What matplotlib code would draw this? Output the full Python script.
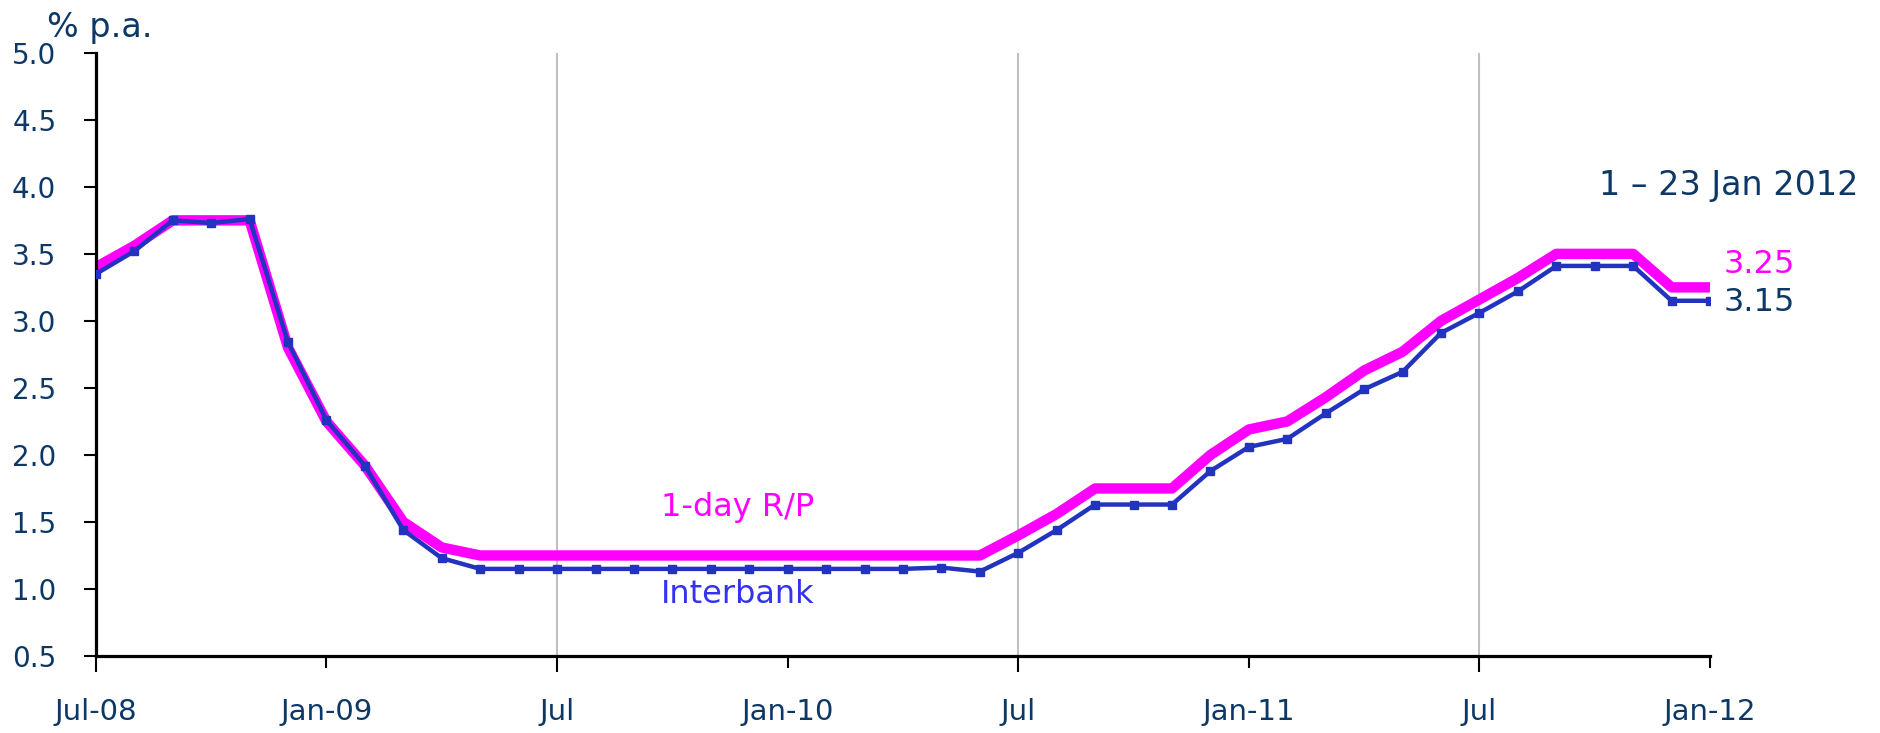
import matplotlib
matplotlib.use("Agg")
import matplotlib.pyplot as plt

# monthly index, Jul-08 = 0 ... Jan-12 = 42
months = list(range(43))
jul_pos = [0, 12, 24, 36]
jul_labels = ['Jul-08', 'Jul', 'Jul', 'Jul']
jan_pos = [6, 18, 30, 42]
jan_labels = ['Jan-09', 'Jan-10', 'Jan-11', 'Jan-12']

rp_1day = [3.40, 3.56, 3.75, 3.75, 3.75, 2.80, 2.25, 1.92, 1.50, 1.31,
           1.25, 1.25, 1.25, 1.25, 1.25, 1.25, 1.25, 1.25, 1.25, 1.25,
           1.25, 1.25, 1.25, 1.25, 1.40, 1.56, 1.75, 1.75, 1.75, 2.00,
           2.19, 2.25, 2.43, 2.63, 2.77, 3.00, 3.16, 3.32, 3.50, 3.50,
           3.50, 3.25, 3.25]
interbank = [3.35, 3.52, 3.75, 3.73, 3.76, 2.84, 2.26, 1.92, 1.44, 1.23,
             1.15, 1.15, 1.15, 1.15, 1.15, 1.15, 1.15, 1.15, 1.15, 1.15,
             1.15, 1.15, 1.16, 1.13, 1.27, 1.44, 1.63, 1.63, 1.63, 1.88,
             2.06, 2.12, 2.31, 2.49, 2.62, 2.91, 3.06, 3.22, 3.41, 3.41,
             3.41, 3.15, 3.15]

navy = '#0d3866'
magenta = '#ff00ff'
blue = '#2233c0'

fig = plt.figure(figsize=(18.8, 7.33), dpi=100)
ax = fig.add_axes([0.051, 0.105, 0.8586, 0.823])

for xv in [12, 24, 36]:
    ax.axvline(xv, color='#c0c0c0', lw=1.5, zorder=0)

ax.plot(months, rp_1day, color=magenta, lw=7.5, zorder=2)
ax.plot(months, interbank, color=blue, lw=3.2, marker='s', markersize=6, zorder=3)

ax.set_xlim(0, 42)
ax.set_ylim(0.5, 5.0)
yt = [0.5, 1.0, 1.5, 2.0, 2.5, 3.0, 3.5, 4.0, 4.5, 5.0]
ax.set_yticks(yt)
ax.set_yticklabels(['%.1f' % v for v in yt])
ax.set_xticks(jul_pos)
ax.set_xticklabels(jul_labels)
ax.set_xticks(jan_pos, minor=True)
ax.set_xticklabels(jan_labels, minor=True)

for s in ['top', 'right']:
    ax.spines[s].set_visible(False)
for s in ['left', 'bottom']:
    ax.spines[s].set_linewidth(2.3)
ax.tick_params(axis='x', which='major', length=11.5, width=1.5, pad=19,
               labelsize=21, labelcolor=navy)
ax.tick_params(axis='x', which='minor', length=8.5, width=1.5, pad=22,
               labelsize=21, labelcolor=navy)
ax.tick_params(axis='y', length=8.5, width=1.5, pad=20, labelsize=20, labelcolor=navy)

fig.text(0.025, 0.950, '% p.a.', fontsize=24, color=navy, ha='left', va='baseline')
ax.text(16.7, 1.61, '1-day R/P', color=magenta, fontsize=23, ha='center', va='center')
ax.text(16.7, 0.96, 'Interbank', color='#3333ee', fontsize=23, ha='center', va='center')
ax.text(45.85, 4.01, '1 \u2013 23 Jan 2012', color=navy, fontsize=24, ha='right',
        va='center', clip_on=False)
ax.text(42.34, 3.42, '3.25', color=magenta, fontsize=23, ha='left', va='center',
        clip_on=False)
ax.text(42.34, 3.14, '3.15', color=navy, fontsize=23, ha='left', va='center',
        clip_on=False)

fig.savefig('out.png', dpi=100)
